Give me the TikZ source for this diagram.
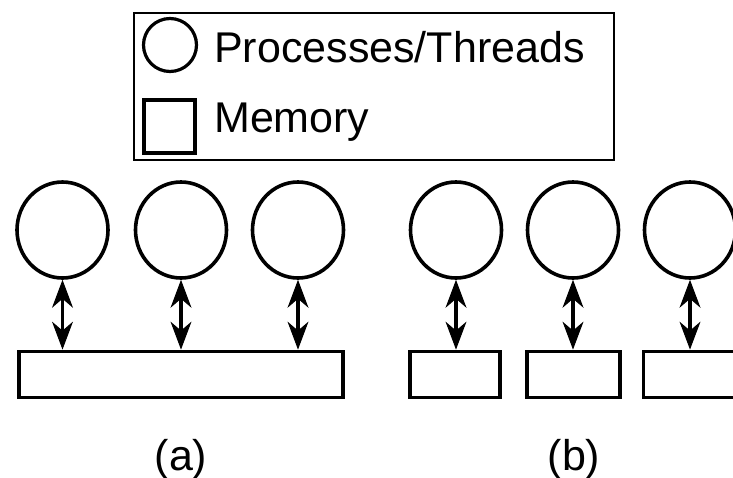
\documentclass[tikz,border=0pt]{standalone}
\usepackage{fontspec}
\setmainfont{Liberation Sans}
\usetikzlibrary{shapes.geometric,arrows.meta}
\begin{document}
\begin{tikzpicture}[x=1pt,y=-1pt,
  proc/.style={draw, ellipse, line width=3.6pt, inner sep=0pt,
               minimum width=91pt, minimum height=96pt},
  mem/.style={draw, rectangle, line width=3.8pt, inner sep=0pt, minimum height=46pt},
  link/.style={line width=3.6pt,
    {Stealth[length=28pt,width=21pt,inset=9pt,line width=1pt]}-{Stealth[length=28pt,width=21pt,inset=9pt,line width=1pt]}},
  lbl/.style={inner sep=0pt, font=\fontsize{43}{50}\selectfont}]
\useasboundingbox (0,0) rectangle (733,477);
\clip (0,0) rectangle (733,477);

% legend
\node[draw, line width=2pt, minimum width=480pt, minimum height=147pt, inner sep=0pt]
  (legend) at (374,86.5) {};
\node[draw, ellipse, line width=3.2pt, inner sep=0pt, minimum width=53pt, minimum height=53pt]
  (legcirc) at (170,45) {};
\node[draw, rectangle, line width=3.6pt, inner sep=0pt, minimum width=51pt, minimum height=53pt]
  (legrect) at (169.5,126.5) {};
\node[lbl, anchor=base west] (legproc) at (214,62) {Processes/Threads};
\node[lbl, anchor=base west] (legmem) at (214,132) {Memory};

% (a) shared memory
\node[proc] (a1) at (62.5,230) {};
\node[proc] (a2) at (181,230) {};
\node[proc] (a3) at (298,230) {};
\node[mem, minimum width=324pt] (amem) at (181,374.5) {};
\draw[link] (a1.south) -- (a1.south |- amem.north);
\draw[link] (a2.south) -- (a2.south |- amem.north);
\draw[link] (a3.south) -- (a3.south |- amem.north);
\node[lbl, anchor=base] (alabel) at (181,470) {(a)};

% (b) private memory
\node[proc] (b1) at (456,230) {};
\node[proc] (b2) at (573,230) {};
\node[proc] (b3) at (690,230) {};
\node[mem, minimum width=90pt] (bm1) at (455,374.5) {};
\node[mem, minimum width=93pt] (bm2) at (573.5,374.5) {};
\node[mem, minimum width=93pt] (bm3) at (690,374.5) {};
\draw[link] (b1.south) -- (b1.south |- bm1.north);
\draw[link] (b2.south) -- (b2.south |- bm2.north);
\draw[link] (b3.south) -- (b3.south |- bm3.north);
\node[lbl, anchor=base] (blabel) at (574,470) {(b)};
\end{tikzpicture}
\end{document}
